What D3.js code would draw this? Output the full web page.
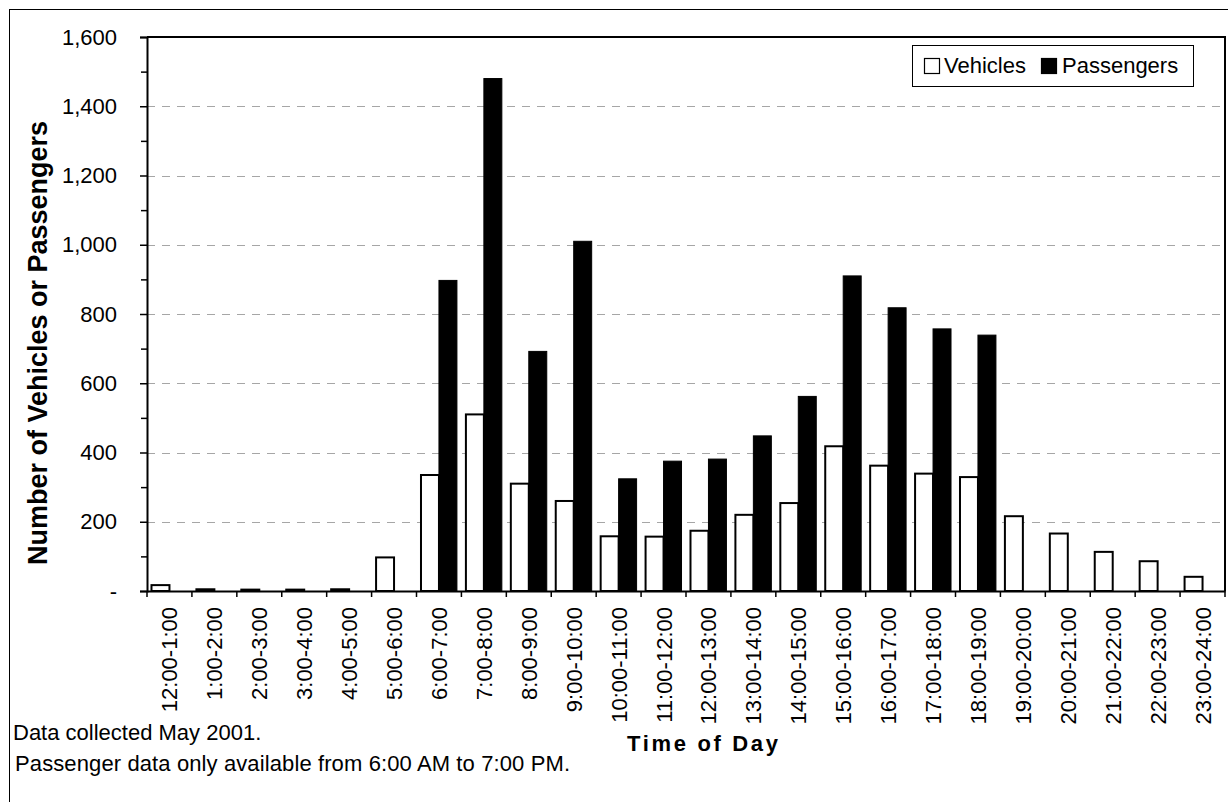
<!DOCTYPE html>
<html>
<head>
<meta charset="utf-8">
<script src="https://cdn.jsdelivr.net/npm/d3@7"></script>
<style>
  html, body { margin: 0; padding: 0; background: #fff; }
  svg text { font-family: "Liberation Sans", Arial, sans-serif; fill: #000; }
</style>
</head>
<body>
<svg id="chart" width="1228" height="802"></svg>
<script>
// Hourly counts, May 2001
const hours = ["12:00-1:00","1:00-2:00","2:00-3:00","3:00-4:00","4:00-5:00","5:00-6:00",
  "6:00-7:00","7:00-8:00","8:00-9:00","9:00-10:00","10:00-11:00","11:00-12:00",
  "12:00-13:00","13:00-14:00","14:00-15:00","15:00-16:00","16:00-17:00","17:00-18:00",
  "18:00-19:00","19:00-20:00","20:00-21:00","21:00-22:00","22:00-23:00","23:00-24:00"];
const vehicles = [17, 5, 4, 4, 5, 97, 335, 510, 310, 260, 158, 157,
  174, 220, 254, 418, 362, 339, 329, 216, 166, 113, 86, 41];
// Passenger counts only exist for 6:00 AM - 7:00 PM
const passengers = [null, null, null, null, null, null, 897, 1480, 692, 1010, 324, 375,
  381, 448, 562, 910, 818, 757, 739, null, null, null, null, null];
const seriesNames = ["Vehicles", "Passengers"];
const yTicks = [0, 200, 400, 600, 800, 1000, 1200, 1400, 1600];
const yMinorTicks = [100, 300, 500, 700, 900, 1100, 1300, 1500];

const svg = d3.select("#chart");
const plot = { left: 147, right: 1225, top: 37, bottom: 591 };

// outer chart frame
svg.append("rect")
  .attr("x", 9.5).attr("y", 9.5).attr("width", 1240).attr("height", 820)
  .attr("fill", "#fff").attr("stroke", "#000").attr("stroke-width", 1);

const x = d3.scaleBand().domain(hours).range([plot.left, plot.right]).paddingInner(0).paddingOuter(0);
const xs = d3.scaleBand().domain(seriesNames).range([0, x.bandwidth()]).paddingInner(0).paddingOuter(0.25);
const y = d3.scaleLinear().domain([0, 1600]).range([plot.bottom, plot.top]);

// dashed gridlines
svg.append("g").selectAll("line")
  .data(yTicks.filter(d => d > 0 && d < 1600))
  .join("line")
  .attr("x1", plot.left).attr("x2", plot.right)
  .attr("y1", d => Math.round(y(d)) + 0.5).attr("y2", d => Math.round(y(d)) + 0.5)
  .attr("stroke", "#a6a6a6").attr("stroke-width", 1)
  .attr("stroke-dasharray", "8,7");

// plot area border (top, right)
svg.append("path")
  .attr("d", `M${plot.left},${plot.top}H${plot.right}V${plot.bottom}`)
  .attr("fill", "none").attr("stroke", "#000").attr("stroke-width", 2);

// bars
const rows = hours.map((h, i) => ({ h, v: vehicles[i], p: passengers[i] }));
const g = svg.append("g");
g.selectAll("rect.veh").data(rows).join("rect").attr("class", "veh")
  .attr("x", d => x(d.h) + xs("Vehicles"))
  .attr("y", d => y(d.v))
  .attr("width", xs.bandwidth())
  .attr("height", d => y(0) - y(d.v))
  .attr("fill", "#fff").attr("stroke", "#000").attr("stroke-width", 2);
g.selectAll("rect.pas").data(rows.filter(d => d.p != null)).join("rect").attr("class", "pas")
  .attr("x", d => x(d.h) + xs("Passengers"))
  .attr("y", d => y(d.p))
  .attr("width", xs.bandwidth())
  .attr("height", d => y(0) - y(d.p))
  .attr("fill", "#000").attr("stroke", "#000").attr("stroke-width", 1);

// y axis
const yAxis = d3.axisLeft(y).tickValues(yTicks).tickSize(7).tickPadding(23)
  .tickFormat(d => d === 0 ? "-" : d3.format(",")(d));
const ya = svg.append("g").attr("transform", `translate(${plot.left},0)`).call(yAxis);
ya.select(".domain").attr("stroke", "#000").attr("stroke-width", 2);
ya.selectAll(".tick line").attr("stroke", "#000").attr("stroke-width", 1.5);
ya.selectAll(".tick text").style("font-size", "22px");
svg.append("g").attr("transform", `translate(${plot.left},0)`)
  .call(d3.axisLeft(y).tickValues(yMinorTicks).tickSize(6).tickFormat(""))
  .call(s => s.select(".domain").remove())
  .selectAll(".tick line").attr("stroke", "#000").attr("stroke-width", 1.5);

// x axis
const xa = svg.append("g").attr("transform", `translate(0,${plot.bottom})`)
  .call(d3.axisBottom(x).tickSize(0).tickFormat(""));
xa.select(".domain").attr("stroke", "#000").attr("stroke-width", 2.2);
// ticks on category boundaries
svg.append("g").selectAll("line")
  .data(hours.concat(["end"]))
  .join("line")
  .attr("x1", (d, i) => plot.left + i * x.bandwidth())
  .attr("x2", (d, i) => plot.left + i * x.bandwidth())
  .attr("y1", plot.bottom).attr("y2", plot.bottom + 6)
  .attr("stroke", "#000").attr("stroke-width", 1.5);
// rotated category labels
svg.append("g").selectAll("text")
  .data(hours)
  .join("text")
  .attr("transform", d => `translate(${x(d) + x.bandwidth() / 2 + 8},607) rotate(-90)`)
  .attr("text-anchor", "end")
  .style("font-size", "22px")
  .text(d => d);

// axis titles
svg.append("text")
  .attr("transform", "translate(47,343) rotate(-90)")
  .attr("text-anchor", "middle")
  .style("font-size", "27px").style("font-weight", "bold")
  .text("Number of Vehicles or Passengers");
svg.append("text")
  .attr("x", 627).attr("y", 751)
  .attr("textLength", 151)
  .style("font-size", "22px").style("font-weight", "bold")
  .text("Time of Day");

// notes
svg.append("text").attr("x", 13).attr("y", 740).style("font-size", "22px")
  .text("Data collected May 2001.");
svg.append("text").attr("x", 15).attr("y", 771).style("font-size", "22px")
  .attr("textLength", 555)
  .text("Passenger data only available from 6:00 AM to 7:00 PM.");

// legend
const lg = svg.append("g");
lg.append("rect").attr("x", 912.5).attr("y", 45.5).attr("width", 281).attr("height", 41)
  .attr("fill", "#fff").attr("stroke", "#000").attr("stroke-width", 1);
const legendItems = [
  { name: seriesNames[0], fill: "#fff", sx: 924, tx: 944 },
  { name: seriesNames[1], fill: "#000", sx: 1041, tx: 1062 }
];
lg.selectAll("rect.key").data(legendItems).join("rect").attr("class", "key")
  .attr("x", d => d.sx + 0.5).attr("y", 58.5).attr("width", 15).attr("height", 15)
  .attr("fill", d => d.fill).attr("stroke", "#000").attr("stroke-width", 1.2);
lg.selectAll("text").data(legendItems).join("text")
  .attr("x", d => d.tx).attr("y", 73)
  .style("font-size", "22px")
  .text(d => d.name);
</script>
</body>
</html>
